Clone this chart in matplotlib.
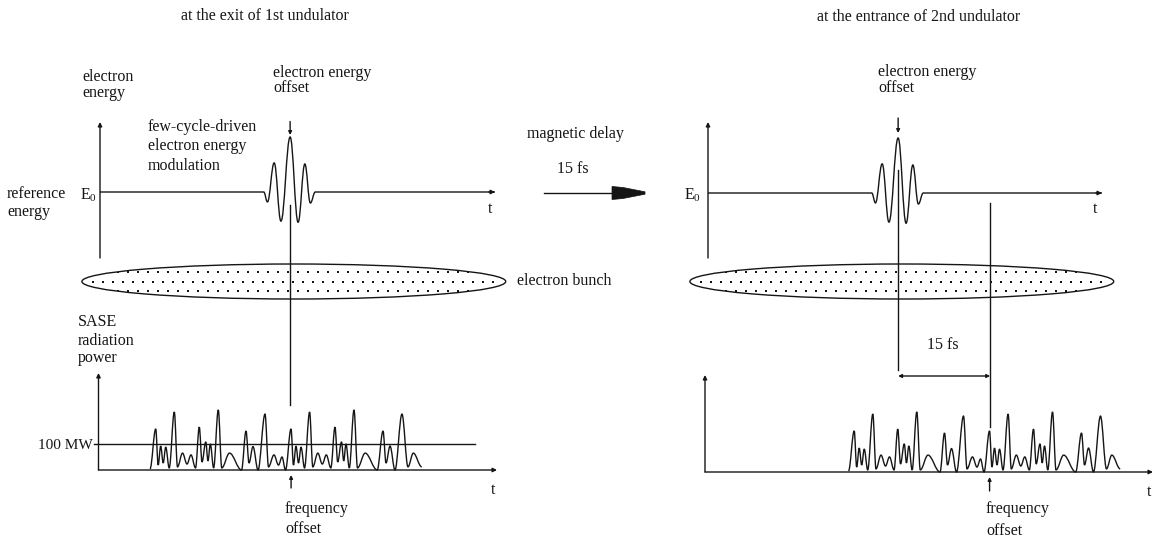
import numpy as np
import matplotlib
matplotlib.use("Agg")
import matplotlib.pyplot as plt
from matplotlib.path import Path
from matplotlib.patches import PathPatch, Ellipse, Polygon
from matplotlib.transforms import blended_transform_factory

plt.rcParams["font.family"] = ["Liberation Serif", "DejaVu Serif"]
plt.rcParams["mathtext.fontset"] = "custom"
plt.rcParams["mathtext.rm"] = "Liberation Serif"

# ---------------- data ----------------
# few-cycle electron energy modulation: extrema around the modulation centre
mod_t_fs = [-4.3, -3.7, -2.6, -1.5, 0.0, 1.3, 2.4, 3.3, 4.1]
mod_energy = [0.0, -0.18, 0.53, -0.53, 1.0, -0.55, 0.51, -0.20, 0.0]  # relative to peak offset
mod_centre_fs = 31.0

bunch_centre_fs = 31.6
bunch_length_fs = 69.1
delay_fs = 15.0
ref_power_mw = 100
freq_offset_fs = 31.4

# SASE radiation power at the exit of the 1st undulator (turning points)
sase_t_fs = [
    8.40, 9.33, 9.73, 10.14, 10.55, 10.96, 11.53, 12.36, 12.88, 13.70, 14.43, 15.08, 15.82,
    16.43, 16.88, 17.49, 17.85, 18.23, 18.77, 19.53, 20.10, 21.36, 23.32,
    24.05, 24.54, 25.19, 26.01, 27.15, 27.72, 28.61, 29.35, 29.92, 30.49,
    31.39, 31.79, 32.20, 32.61, 33.02, 33.59, 34.42, 34.94, 35.76, 36.49, 37.14, 37.88,
    38.56, 39.00, 39.62, 39.98, 40.35, 40.89, 41.66, 42.23, 43.48, 45.44,
    46.39, 46.88, 47.53, 48.34, 49.48, 50.46, 51.33, 52.70,
]
sase_mw = [
    4, 158, 19, 92, 27, 88, 8, 223, 12, 65, 23, 58, 8,
    165, 31, 108, 35, 100, 8, 231, 8, 65, 0,
    150, 27, 90, 0, 215, 12, 58, 19, 50, 0,
    158, 19, 92, 27, 88, 8, 223, 12, 65, 23, 58, 8,
    165, 31, 108, 35, 100, 8, 231, 8, 65, 0,
    150, 27, 92, 0, 215, 12, 65, 12,
]

# ---------------- layout ----------------
W, H = 1154, 541
INK = "#151515"
LW = 1.0
FS = 11.5
PX_PER_FS = 92 / 15.0
PX_PER_UNIT = 55.0
PX_PER_MW = 0.26

fig = plt.figure(figsize=(W / 100, H / 100), dpi=100, facecolor="white")

ov = fig.add_axes([0, 0, 1, 1])
ov.set_xlim(0, W)
ov.set_ylim(H, 0)
ov.axis("off")


def panel(x0, x1, ytop, ybot, yzero, yscale):
    ax = fig.add_axes([x0 / W, 1 - ybot / H, (x1 - x0) / W, (ybot - ytop) / H])
    ax.set_xlim(0, (x1 - x0) / PX_PER_FS)
    ax.set_ylim(-(ybot - yzero) / yscale, (yzero - ytop) / yscale)
    ax.axis("off")
    ax.patch.set_visible(False)
    return ax


def smooth_path(xs, ys, k=0.4):
    verts = [(xs[0], ys[0])]
    codes = [Path.MOVETO]
    for i in range(len(xs) - 1):
        dx = xs[i + 1] - xs[i]
        verts += [(xs[i] + k * dx, ys[i]), (xs[i + 1] - k * dx, ys[i + 1]), (xs[i + 1], ys[i + 1])]
        codes += [Path.CURVE4] * 3
    return Path(verts, codes)


def arrow(ax, p0, p1, trans=None, ms=7, style="-|>"):
    c = trans if trans is not None else "data"
    ax.annotate("", xy=p1, xytext=p0, xycoords=c, textcoords=c,
                arrowprops=dict(arrowstyle=style, color=INK, lw=LW, mutation_scale=ms,
                                shrinkA=0, shrinkB=0),
                annotation_clip=False)


def energy_panel(ax):
    xmax = ax.get_xlim()[1]
    ymin, ymax = ax.get_ylim()
    xs = [0.0] + [mod_centre_fs + t for t in mod_t_fs] + [xmax]
    ys = [0.0] + mod_energy + [0.0]
    ax.add_patch(PathPatch(smooth_path(xs, ys), fill=False, ec=INK, lw=LW, clip_on=False))
    arrow(ax, (xmax - 1.0, 0), (xmax, 0), ms=6)
    arrow(ax, (0, ymin), (0, ymax), ms=6)


def power_panel(ax, shift):
    xmax = ax.get_xlim()[1]
    ymax = ax.get_ylim()[1]
    xs = [t + shift for t in sase_t_fs]
    ax.add_patch(PathPatch(smooth_path(xs, sase_mw, k=0.36), fill=False, ec=INK, lw=1.0,
                           clip_on=False))
    arrow(ax, (0, 0), (xmax, 0), ms=6)
    arrow(ax, (0, 0), (0, ymax), ms=6)


ax_ul = panel(100, 495, 122, 258, 192, PX_PER_UNIT)
ax_ur = panel(708, 1102, 122, 258, 193, PX_PER_UNIT)
ax_ll = panel(98.5, 497, 373, 470, 470, PX_PER_MW)
ax_lr = panel(705, 1153, 375, 472, 472, PX_PER_MW)

energy_panel(ax_ul)
energy_panel(ax_ur)
power_panel(ax_ll, 0.0)
power_panel(ax_lr, delay_fs)

# 100 MW reference level
ax_ll.plot([-0.7, 61.4], [ref_power_mw, ref_power_mw], color=INK, lw=LW, clip_on=False)

tr_ul = blended_transform_factory(ax_ul.transData, ov.transData)
tr_ur = blended_transform_factory(ax_ur.transData, ov.transData)
tr_ll = blended_transform_factory(ax_ll.transData, ov.transData)
tr_lr = blended_transform_factory(ax_lr.transData, ov.transData)

# electron bunches: outline plus a stippled interior
for ax_e, tr in ((ax_ul, tr_ul), (ax_ur, tr_ur)):
    bunch = Ellipse((bunch_centre_fs, 281.5), bunch_length_fs, 35, transform=tr,
                    facecolor="none", edgecolor=INK, lw=1.0)
    ov.add_patch(bunch)
    x_left = ax_e.transData.transform((bunch_centre_fs - bunch_length_fs / 2, 0))[0]
    x_right = ax_e.transData.transform((bunch_centre_fs + bunch_length_fs / 2, 0))[0]
    x_left, x_right = ov.transData.inverted().transform([(x_left, 0), (x_right, 0)])[:, 0]
    for row, dy in enumerate((-9.3, 0.0, 9.3)):
        xs = np.arange(x_left + 6 + 5 * (row % 2), x_right - 4, 10.0)
        dots = ov.scatter(xs, np.full_like(xs, 281.5 + dy), s=2.2, c=INK, marker="s",
                          linewidths=0)
        dots.set_clip_path(bunch)

# marker lines through the bunch
ov.plot([mod_centre_fs] * 2, [205, 405], color=INK, lw=LW, transform=tr_ul)
ov.plot([mod_centre_fs] * 2, [170, 370], color=INK, lw=LW, transform=tr_ur)
ov.plot([mod_centre_fs + delay_fs] * 2, [203, 427], color=INK, lw=LW, transform=tr_ur)
arrow(ov, (mod_centre_fs, 376), (mod_centre_fs + delay_fs, 376), trans=tr_ur, ms=5,
      style="<|-|>")

# offset pointers
arrow(ov, (mod_centre_fs, 121.5), (mod_centre_fs, 135), trans=tr_ul, ms=5)
arrow(ov, (mod_centre_fs, 118), (mod_centre_fs, 133), trans=tr_ur, ms=5)
arrow(ov, (freq_offset_fs, 488), (freq_offset_fs, 475), trans=tr_ll, ms=5)
arrow(ov, (freq_offset_fs + delay_fs, 491), (freq_offset_fs + delay_fs, 477), trans=tr_lr, ms=5)

# magnetic delay arrow
ov.plot([544, 613], [193, 193], color=INK, lw=LW)
ov.add_patch(Polygon([(612, 186.5), (623, 187.5), (645, 191.8), (645, 194.2), (623, 198.5),
                      (612, 199.5)], closed=True, facecolor=INK, edgecolor=INK, lw=0.5))


def txt(x, y, s, ha="left", size=FS):
    ov.text(x, y, s, ha=ha, va="baseline", fontsize=size, color=INK)


txt(265, 20.5, "at the exit of 1st undulator", ha="center")
txt(918.5, 21, "at the entrance of 2nd undulator", ha="center")

txt(82, 81, "electron")
txt(82, 97, "energy")
txt(273, 77, "electron energy")
txt(273, 92, "offset")
txt(878, 75.5, "electron energy")
txt(878, 92, "offset")
txt(148, 131, "few-cycle-driven")
txt(148, 150, "electron energy")
txt(148, 170, "modulation")
txt(7, 198, "reference")
txt(7, 216, "energy")
txt(80, 199, r"$\mathrm{E}_0$")
txt(684, 199, r"$\mathrm{E}_0$")
txt(490, 213, "t", ha="center")
txt(1095, 213, "t", ha="center")
txt(493, 494, "t", ha="center")
txt(1149, 496, "t", ha="center")

txt(527, 138, "magnetic delay")
txt(557, 173, "15 fs")
txt(517, 285, "electron bunch")

txt(78, 326, "SASE")
txt(78, 345, "radiation")
txt(78, 362, "power")
txt(93, 449, "100 MW", ha="right", size=11)

txt(927, 349, "15 fs")
txt(285, 513, "frequency")
txt(285, 533, "offset")
txt(986, 513, "frequency")
txt(986, 535, "offset")

fig.savefig("out.png", dpi=100, facecolor="white")
